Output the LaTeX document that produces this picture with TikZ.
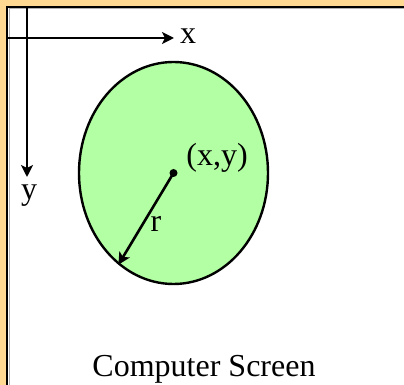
\documentclass[tikz,border=0pt]{standalone}
\usepackage{fontspec}
\setmainfont{Liberation Serif}
\usetikzlibrary{arrows.meta,shapes.geometric}
\definecolor{bgorange}{HTML}{FFD992}
\definecolor{discgreen}{HTML}{B3FFA3}
\begin{document}
\begin{tikzpicture}[x=1pt,y=1pt,
  axis/.style={line width=2.6pt,-{Stealth[length=12pt,width=12pt,inset=3pt]}},
  lbl/.style={font=\fontsize{32}{38}\selectfont, inner sep=0pt, anchor=base}]
\useasboundingbox (0,0) rectangle (404,385);
\fill[bgorange] (0,0) rectangle (404,385);
\fill[white] (7,0) rectangle (404,378);
\draw[gray!60, line width=1pt] (9,0) -- (9,376) -- (404,376);
\draw[black, line width=2.4pt] (7,0) -- (7,378) -- (404,378);
% axes
\coordinate (ytop) at (27,378);
\coordinate (ybot) at (27,208);
\coordinate (xleft) at (7,347);
\coordinate (xright) at (174,347);
\draw[axis] (ytop) -- (ybot);
\draw[axis] (xleft) -- (xright);
\node[lbl] (xl) at (188,341) {x};
\node[lbl] (yl) at (29,185) {y};
% disc
\node[ellipse, draw, line width=2.4pt, fill=discgreen, minimum width=189pt,
      minimum height=222pt, inner sep=0pt] (disc) at (173.5,212) {};
\node[circle, fill=black, inner sep=0pt, minimum size=8pt] (ctr) at (disc.center) {};
\draw[axis] (ctr.center) -- (disc.239.6);
\node[lbl] (xy) at (217,219) {(x,y)};
\node[lbl] (rl) at (156,153) {r};
\node[lbl] (cs) at (204,8) {Computer Screen};
\end{tikzpicture}
\end{document}
